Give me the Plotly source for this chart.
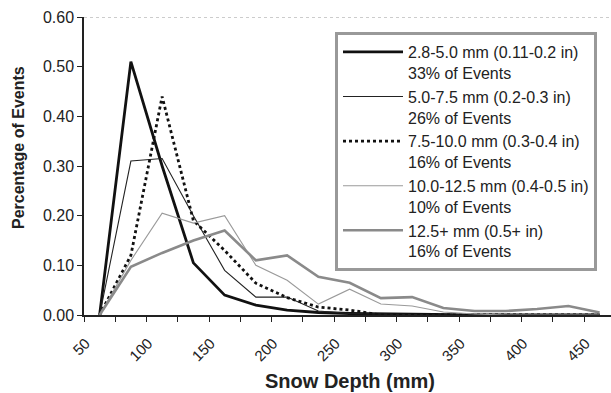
import plotly.graph_objects as go

depth = [50, 75, 100, 125, 150, 175, 200, 225, 250, 275, 300, 325, 350, 375, 400, 425, 450]
tick_vals = [50, 100, 150, 200, 250, 300, 350, 400, 450]
tick_text = ["50", "100", "150", "200", "250", "300", "350", "400", "450"]

s_28_50 = [0, 0.51, 0.30, 0.105, 0.04, 0.02, 0.01, 0.005, 0.003, 0.002, 0.001, 0, 0, 0, 0, 0, 0]
s_50_75 = [0, 0.31, 0.315, 0.20, 0.09, 0.036, 0.036, 0.008, 0.003, 0.002, 0, 0, 0, 0, 0, 0, 0]
s_75_100 = [0, 0.12, 0.44, 0.19, 0.13, 0.064, 0.035, 0.016, 0.01, 0, 0, 0, 0, 0, 0, 0, 0]
s_100_125 = [0, 0.11, 0.205, 0.185, 0.20, 0.10, 0.07, 0.022, 0.052, 0.022, 0.018, 0.006, 0.002, 0, 0, 0, 0]
s_125p = [0, 0.097, 0.125, 0.15, 0.17, 0.11, 0.12, 0.077, 0.065, 0.034, 0.036, 0.014, 0.008, 0.008, 0.012, 0.018, 0.005]

names = [
    "2.8-5.0 mm (0.11-0.2 in)<br>33% of Events",
    "5.0-7.5 mm (0.2-0.3 in)<br>26% of Events",
    "7.5-10.0 mm (0.3-0.4 in)<br>16% of Events",
    "10.0-12.5 mm (0.4-0.5 in)<br>10% of Events",
    "12.5+ mm (0.5+ in)<br>16% of Events",
]
series = [s_28_50, s_50_75, s_75_100, s_100_125, s_125p]
styles = [
    dict(color="#111111", width=2.8, dash="solid"),
    dict(color="#222222", width=1.1, dash="solid"),
    dict(color="#111111", width=2.8, dash="dot"),
    dict(color="#9a9a9a", width=1.1, dash="solid"),
    dict(color="#8a8a8a", width=2.6, dash="solid"),
]

fig = go.Figure()
for nm, ys, st in zip(names, series, styles):
    fig.add_trace(go.Scatter(x=depth, y=ys, name=nm, mode="lines", line=st))

font_family = "Liberation Sans, Arial, sans-serif"
fig.update_layout(
    width=611, height=393,
    margin=dict(l=84, r=0, t=17, b=78, autoexpand=False),
    paper_bgcolor="white", plot_bgcolor="white",
    font=dict(family=font_family, color="#222222"),
    showlegend=True,
    legend=dict(
        x=(335 - 84) / 527, y=(315 - 32) / 298, xanchor="left", yanchor="top",
        bgcolor="white", bordercolor="#999999", borderwidth=3,
        font=dict(size=16, color="#222222", family=font_family),
        itemwidth=60, tracegroupgap=0, valign="top",
    ),
    xaxis=dict(
        range=[37.5, 459.1], showgrid=False, zeroline=False, automargin=False,
        showline=True, linecolor="#222222", linewidth=1.5,
        tickmode="array", tickvals=tick_vals, ticktext=tick_text,
        ticks="outside", ticklen=4, tickcolor="rgba(0,0,0,0)", tickangle=-45,
        ticklabelshift=-14, ticklabelstandoff=8,
        tickfont=dict(size=15, color="#222222"),
        minor=dict(tick0=37.5, dtick=25, ticks="outside", ticklen=5, tickcolor="#222222", showgrid=False),
    ),
    yaxis=dict(
        range=[0, 0.6], dtick=0.1, tickformat=".2f", showgrid=False, zeroline=False, automargin=False,
        showline=True, linecolor="#222222", linewidth=1.5,
        ticks="outside", ticklen=5, tickcolor="#222222",
        tickfont=dict(size=16, color="#222222"),
    ),
    shapes=[dict(type="line", xref="paper", yref="y", x0=0, x1=1, y0=0.6, y1=0.6,
                 line=dict(color="#9a9a9a", width=1.2, dash="dot"))],
    annotations=[
        dict(text="<b>Percentage of Events</b>", xref="paper", yref="paper",
             x=(18 - 84) / 527, y=(315 - 148) / 298, textangle=-90, showarrow=False,
             xanchor="center", yanchor="middle", font=dict(size=16, color="#222222")),
        dict(text="<b>Snow Depth (mm)</b>", xref="paper", yref="paper",
             x=(350 - 84) / 527, y=(315 - 381) / 298, showarrow=False,
             xanchor="center", yanchor="middle", font=dict(size=20, color="#222222")),
    ],
)

fig.write_html("out.html", config={"displayModeBar": False},
               post_script="document.body.style.margin='0';")
